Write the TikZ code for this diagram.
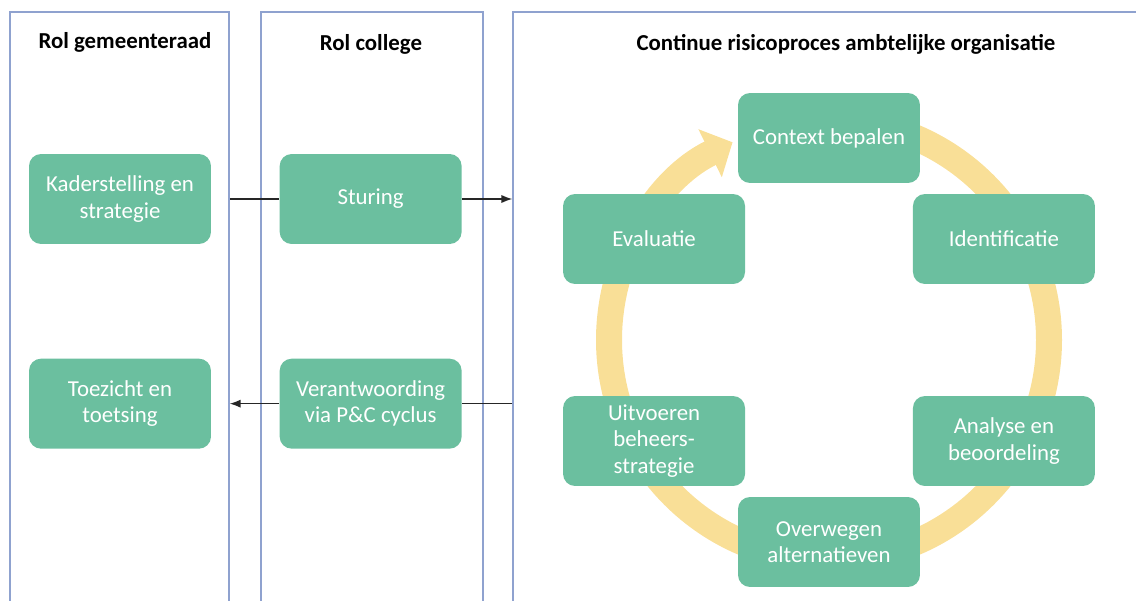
\documentclass[tikz,border=0pt]{standalone}
\usepackage{fontspec}
\setmainfont{Carlito}
\usetikzlibrary{positioning,arrows.meta}

\definecolor{stapgroen}{HTML}{6BBF9F}
\definecolor{ringgeel}{HTML}{F9DF97}
\definecolor{kaderblauw}{HTML}{8FA2CF}

\begin{document}
\begin{tikzpicture}[x=0.02cm,y=0.02cm,node distance=1.36cm,
	stap/.style={rectangle,rounded corners=0.24cm,fill=stapgroen,text=white,
		minimum width=3.64cm,minimum height=1.8cm,align=center,inner sep=2pt,
		font=\fontsize{13}{15}\selectfont},
	baan/.style={rectangle,draw=kaderblauw,line width=0.9pt,minimum height=12.4cm},
	kop/.style={font=\fontsize{13}{15}\selectfont\bfseries},
	pijl/.style={line width=0.7pt,draw=black!85}]
	\useasboundingbox (0,0) rectangle (1136,600);
	\clip (0,0) rectangle (1136,600);

	% kolommen
	\node[baan,minimum width=4.38cm] (raad)    at (119.5,278) {};
	\node[baan,minimum width=4.44cm] (college) at (372,278) {};
	\node[baan,minimum width=12.94cm] (proces) at (836.5,278) {};
	\node[kop] (kopraad)    at (125,558) {Rol gemeenteraad};
	\node[kop] (kopcollege) at (371,556) {Rol college};
	\node[kop] (kopproces)  at (846,556) {Continue risicoproces ambtelijke organisatie};

	% rollen
	\node[stap] (kader) at (120,401) {Kaderstelling en\\strategie};
	\node[stap] (sturing) [right=of kader] {Sturing};
	\node[stap] (toezicht) [below=2.28cm of kader] {Toezicht en\\toetsing};
	\node[stap] (verant) [right=of toezicht] {Verantwoording\\via P\&C cyclus};

	% cyclus
	\coordinate (cyc) at (829,260);
	\draw[ringgeel,line width=14.8pt,-{Triangle[length=0.5cm,width=1.04cm]}]
		(cyc) ++(90:220) arc[start angle=90,end angle=-244,radius=220];
	\node[stap] (context)   at ([shift={(90:202)}]cyc)   {Context bepalen};
	\node[stap] (ident)     at ([shift={(30:202)}]cyc)   {Identificatie};
	\node[stap] (analyse)   at ([shift={(-30:202)}]cyc)  {Analyse en\\beoordeling};
	\node[stap] (overwegen) at ([shift={(-90:202)}]cyc)  {Overwegen\\alternatieven};
	\node[stap] (uitvoeren) at ([shift={(-150:202)}]cyc) {Uitvoeren\\beheers-\\strategie};
	\node[stap] (evaluatie) at ([shift={(150:202)}]cyc)  {Evaluatie};

	% verbindingen
	\draw[pijl] (raad.east |- sturing) -- (sturing);
	\draw[pijl,-{Latex}] (sturing) -- (proces.west |- sturing);
	\draw[pijl] (proces.west |- verant) -- (verant);
	\draw[pijl,-{Latex}] (verant) -- (raad.east |- verant);
\end{tikzpicture}
\end{document}
